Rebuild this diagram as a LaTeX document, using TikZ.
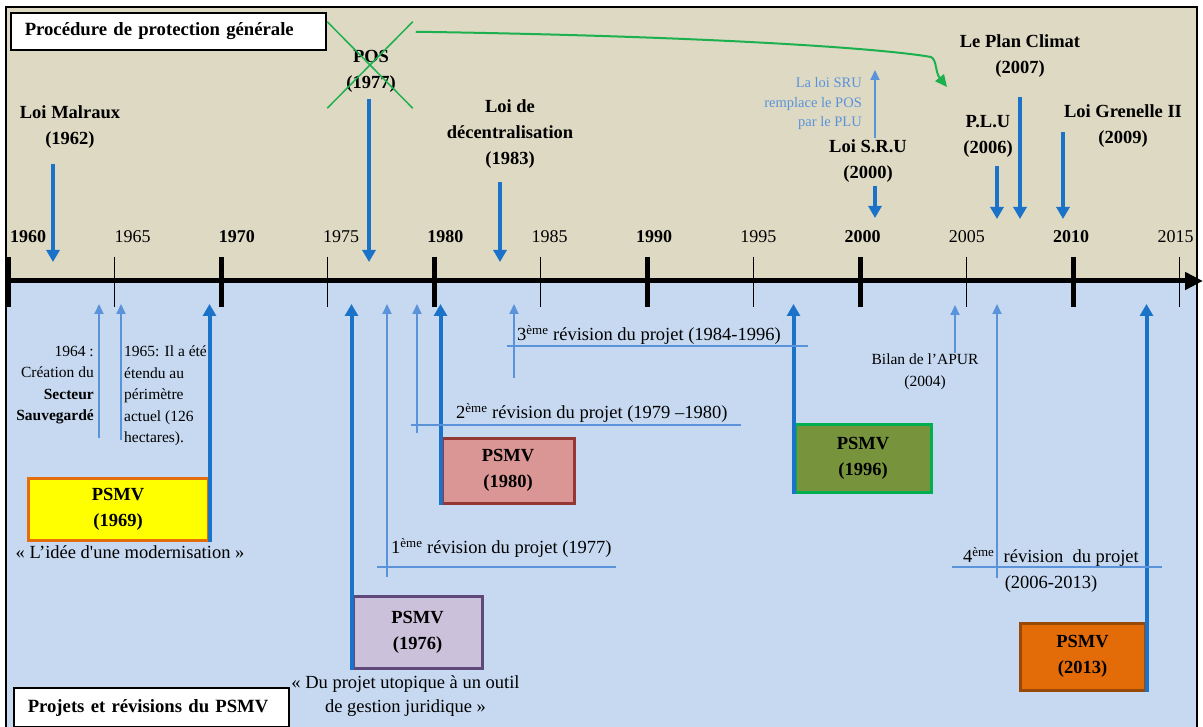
\documentclass[tikz,border=0pt]{standalone}
\usepackage{fontspec}
\setmainfont{Liberation Serif}
\usetikzlibrary{positioning, arrows.meta, shapes.misc}

\definecolor{fondhaut}{HTML}{DDD9C3}
\definecolor{fondbas}{HTML}{C6D9F1}
\definecolor{bleu}{HTML}{1A73C9}
\definecolor{bleuclair}{HTML}{5B93DB}
\definecolor{vert}{HTML}{1DB04E}
\definecolor{jaune}{HTML}{FFFF00}
\definecolor{orange69}{HTML}{E46C0A}
\definecolor{lavande}{HTML}{CCC1DA}
\definecolor{violet76}{HTML}{5F497A}
\definecolor{rose}{HTML}{D99694}
\definecolor{rouge80}{HTML}{953735}
\definecolor{olive}{HTML}{77933C}
\definecolor{vert96}{HTML}{00B050}
\definecolor{orange13}{HTML}{E36C09}
\definecolor{brun13}{HTML}{984807}

\tikzset{
  loi/.style={font=\bfseries\fontsize{18.5}{26}\selectfont, align=center, inner sep=1pt},
  texte/.style={font=\fontsize{18.5}{24}\selectfont, inner sep=1pt},
  petit/.style={font=\fontsize{15.5}{21.5}\selectfont, inner sep=1pt},
  cadre/.style={draw, line width=1.5pt, fill=white, align=left, inner ysep=0pt, inner xsep=14pt,
    font=\bfseries\fontsize{18.7}{22}\selectfont},
  psmv/.style={line width=3pt, font=\bfseries\fontsize{18.5}{26}\selectfont, align=center, inner sep=0pt},
  fort/.style={bleu, line width=4pt, -{Triangle[length=12pt,width=13pt]}},
  fin/.style={bleuclair, line width=2pt, -{Triangle[length=10pt,width=9pt]}},
  trait/.style={bleuclair, line width=1.5pt},
}

\begin{document}
\begin{tikzpicture}[x=1pt, y=-1pt]
\useasboundingbox (0,0) rectangle (1203,727);
% fonds
\fill[fondhaut] (6,7) rectangle (1197,281);
\fill[fondbas] (6,281) rectangle (1197,727);
\draw[line width=2pt] (6,727) -- (6,7) -- (1197,7) -- (1197,727);

\coordinate (bas) at (0,304);
\coordinate (t0) at (8,281);
\coordinate (t1) at (1203,281);

% axe du temps
\draw[line width=5pt, -{Triangle[length=18pt,width=17pt]}] (t0) -- (t1);
\foreach \a in {1960,1970,...,2010}
  \draw[line width=5pt] ({8+(\a-1960)*21.3},257) -- ++(0,50);
\foreach \a in {1965,1975,...,2015}
  \draw[line width=1.6pt] ({8+(\a-1960)*21.3},257) -- ++(0,50);
\foreach \a [count=\i from 0] in {1960,1970,...,2010}
  \node[anchor=west, inner sep=0pt, font=\bfseries\fontsize{18}{20}\selectfont] (an\a) at ({10+\i*208.6},237) {\a};
\foreach \a [count=\i from 0] in {1965,1975,...,2015}
  \node[anchor=west, inner sep=0pt, font=\fontsize{18}{20}\selectfont] (an\a) at ({114.3+\i*208.6},237) {\a};

% procedure generale
\node[cadre, anchor=west, text width=287pt, minimum height=37pt] (proc) at (10,31.5) {Procédure de protection générale};
\node[loi] (malraux) at (70,127) {Loi Malraux\\(1962)};
\node[loi] (pos) at (371,71) {POS\\(1977)};
\node[cross out, draw=vert, line width=1.5pt, minimum width=84pt, minimum height=85pt] (croix) at (370,65) {};
\node[loi] (decent) at (510,134) {Loi de\\décentralisation\\(1983)};
\node[loi] (sru) at (868,161) {Loi S.R.U\\(2000)};
\node[loi] (plu) at (988,136) {P.L.U\\(2006)};
\node[loi] (climat) at (1020,56) {Le Plan Climat\\(2007)};
\node[loi] (grenelle) at (1123,126) {Loi Grenelle II\\(2009)};
\node[anchor=east, align=right, inner sep=0pt, text=bleuclair, font=\fontsize{14.5}{19.5}\selectfont] (srutxt) at (862,104) {La loi SRU\\remplace le POS\\par le PLU};

\coordinate (a62) at (53,262);
\coordinate (a77) at (369,262);
\coordinate (a83) at (500,262);
\coordinate (a00) at (875,218);
\coordinate (a06) at (997,219);
\coordinate (a07) at (1020,219);
\coordinate (a09) at (1063,219);
\coordinate (s0) at (875,70);
\coordinate (coude) at (931,57);
\coordinate (cible) at (947,87);
\draw[fort, shorten <=14pt] (malraux.south -| a62) -- (a62);
\draw[fort, shorten <=6pt] (pos.south -| a77) -- (a77);
\draw[fort, shorten <=12pt] (decent.south -| a83) -- (a83);
\draw[fort, shorten <=2pt] (sru.south -| a00) -- (a00);
\draw[fort, shorten <=8pt] (plu.south -| a06) -- (a06);
\draw[fort, shorten <=18pt] (climat.south -| a07) -- (a07);
\draw[fort, shorten <=6pt] (grenelle.west -| a09) -- (a09);
\draw[fin] (sru.north -| s0) -- (s0);
\draw[vert, line width=2pt, -{Triangle[length=12pt,width=11pt]}] ([xshift=3pt,yshift=-10pt]croix.north east)
  .. controls (700,36) and (880,48) .. (coude) .. controls (937,60) and (935,72) .. (cible);

% projets et revisions
\node[cadre, anchor=west, text width=247pt, minimum height=39pt] (projets) at (13,707.5) {Projets et révisions du PSMV};

\node[psmv, fill=jaune, draw=orange69, minimum width=180pt, minimum height=62pt] (p69) at (118,509) {PSMV\\(1969)};
\node[psmv, fill=lavande, draw=violet76, minimum width=129pt, minimum height=72pt] (p76) at (417.5,632) {PSMV\\(1976)};
\node[psmv, fill=rose, draw=rouge80, minimum width=132pt, minimum height=65pt] (p80) at (508,470.5) {PSMV\\(1980)};
\node[psmv, fill=olive, draw=vert96, minimum width=136pt, minimum height=67pt] (p96) at (863,458.5) {PSMV\\(1996)};
\node[psmv, fill=orange13, draw=brun13, minimum width=125pt, minimum height=67pt] (p13) at (1082.5,656.5) {PSMV\\(2013)};

\draw[fort] (p69.south east) -- (p69.south east |- bas);
\draw[fort] (p76.south west) -- (p76.south west |- bas);
\draw[fort] (p80.south west) -- (p80.south west |- bas);
\draw[fort] (p96.south west) -- (p96.south west |- bas);
\draw[fort] (p13.south east) -- (p13.south east |- bas);

\node[texte, below=3pt of p69, xshift=12pt] (c69) {« L’idée d\textquotesingle une modernisation »};
\node[texte, align=center, below=5pt of p76, xshift=-12pt] (c76) {« Du projet utopique à un outil\\de gestion juridique »};

\node[petit, anchor=east, align=right] (t64) at (95,385) {1964 :\\Création du\\\textbf{Secteur}\\\textbf{Sauvegardé}};
\node[petit, anchor=west, align=left] (t65) at (123,396) {1965: Il a été\\étendu au\\périmètre\\actuel (126\\hectares).};
\node[petit, align=center] (apur) at (925,372) {Bilan de l’APUR\\(2004)};

\node[texte, anchor=west] (r1) at (390,548) {1\textsuperscript{ème} révision du projet (1977)};
\node[texte, anchor=west] (r2) at (455,413) {2\textsuperscript{ème} révision du projet (1979 –1980)};
\node[texte, anchor=west] (r3) at (516,335) {3\textsuperscript{ème} révision du projet (1984-1996)};
\node[texte, align=center, font=\fontsize{18.5}{26}\selectfont] (r4) at (1051,570) {4\textsuperscript{ème}\ \ révision\ \ du projet\\(2006-2013)};

\coordinate (d64) at (99,438);
\coordinate (d65) at (121,440);
\coordinate (d77) at (387,577);
\coordinate (d79) at (417,433);
\coordinate (d84) at (514,378);
\coordinate (d04) at (955,305);
\coordinate (d06) at (997,578);
\draw[fin] (d64) -- (d64 |- bas);
\draw[fin] (d65) -- (d65 |- bas);
\draw[fin] (d77) -- (d77 |- bas);
\draw[fin] (d79) -- (d79 |- bas);
\draw[fin] (d84) -- (d84 |- bas);
\draw[fin] (apur.north -| d04) -- (d04);
\draw[fin] (d06) -- (d06 |- bas);

\coordinate (l1a) at (377,567); \coordinate (l1b) at (616,567);
\coordinate (l2a) at (411,425); \coordinate (l2b) at (741,425);
\coordinate (l3a) at (507,346); \coordinate (l3b) at (808,346);
\coordinate (l4a) at (952,567); \coordinate (l4b) at (1162,567);
\draw[trait] (l1a) -- (l1b);
\draw[trait] (l2a) -- (l2b);
\draw[trait] (l3a) -- (l3b);
\draw[trait] (l4a) -- (l4b);
\end{tikzpicture}
\end{document}
